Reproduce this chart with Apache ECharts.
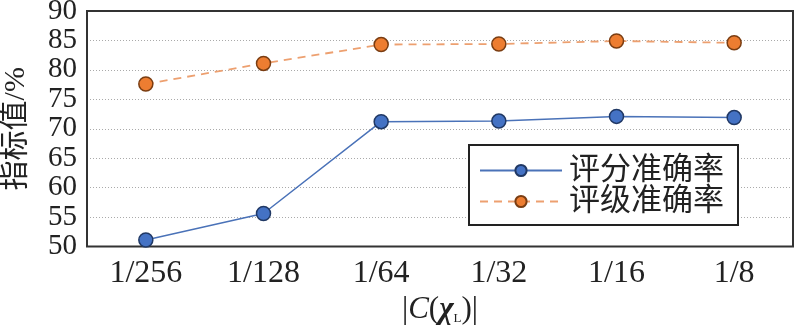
<!DOCTYPE html>
<html><head><meta charset="utf-8">
<script src="https://cdn.jsdelivr.net/npm/echarts@6/dist/echarts.min.js"></script>
<style>html,body{margin:0;padding:0;background:#fff}#c{width:796px;height:325px}</style>
</head><body><div id="c"></div>
<script>
const categories = ['1/256','1/128','1/64','1/32','1/16','1/8'];
const scoreAcc = [51.1, 55.6, 71.2, 71.3, 72.1, 71.9];
const gradeAcc = [77.6, 81.1, 84.3, 84.4, 84.9, 84.6];
const seriesNames = ['评分准确率','评级准确率'];
const yMin = 50, yMax = 90, yStep = 5;

const serif = '"Liberation Serif","Times New Roman",serif';
const cjk = '"Liberation Serif","Noto Sans CJK SC",serif';
const chart = echarts.init(document.getElementById('c'), null, {renderer:'canvas'});
chart.setOption({
  animation:false,
  backgroundColor:'#fff',
  grid:{left:87,right:3,top:11,bottom:78.5,containLabel:false,outerBoundsMode:'none',
        show:true,borderColor:'#333',borderWidth:2,backgroundColor:'transparent',z:3},
  legend:{
    data:seriesNames, orient:'vertical', left:469, top:145,
    backgroundColor:'#fff', borderColor:'#222', borderWidth:2,
    padding:[10,14,8,10], itemWidth:82, itemHeight:14, itemGap:0,
    textStyle:{fontFamily:cjk,fontSize:31,color:'#222',padding:[0,0,0,2]}
  },
  xAxis:{
    type:'category', data:categories, boundaryGap:true,
    axisLine:{show:false}, axisTick:{show:false},
    axisLabel:{fontFamily:serif,fontSize:32,color:'#222',margin:11,showMinLabel:true,showMaxLabel:true,interval:0},
    name:'{a||}{c|C}{a|(}{x|χ}{s|L}{a|)|}', nameLocation:'middle', nameGap:45,
    nameTextStyle:{rich:{
      a:{fontFamily:serif,fontSize:31,color:'#222'},
      c:{fontFamily:serif,fontSize:31,fontStyle:'italic',color:'#222'},
      x:{fontFamily:serif,fontSize:31,fontStyle:'italic',fontWeight:'bold',color:'#222'},
      s:{fontFamily:serif,fontSize:13,color:'#222',verticalAlign:'bottom',padding:[14,0,0,0]}
    }}
  },
  yAxis:{
    type:'value', min:yMin, max:yMax, interval:yStep,
    axisLine:{show:false}, axisTick:{show:false},
    axisLabel:{fontFamily:serif,fontSize:29,color:'#222',margin:10,showMinLabel:true,showMaxLabel:true},
    splitLine:{show:true,lineStyle:{color:'#aaa',type:[1,2],width:1}},
    name:'指标值/%', nameLocation:'middle', nameGap:56, nameRotate:90, nameMoveOverlap:false,
    nameTextStyle:{fontFamily:cjk,fontSize:30,color:'#222'}
  },
  series:[
    {name:seriesNames[0],type:'line',data:scoreAcc,symbol:'circle',symbolSize:14,
     lineStyle:{color:'#4a72b8',width:1.5},
     itemStyle:{color:'#4472C4',borderColor:'#203864',borderWidth:1.5},z:5},
    {name:seriesNames[1],type:'line',data:gradeAcc,symbol:'circle',symbolSize:14,
     lineStyle:{color:'#EDA070',width:1.8,type:[8,6]},
     itemStyle:{color:'#ED7D31',borderColor:'#7a3d12',borderWidth:1.5},z:5}
  ]
});
</script></body></html>
